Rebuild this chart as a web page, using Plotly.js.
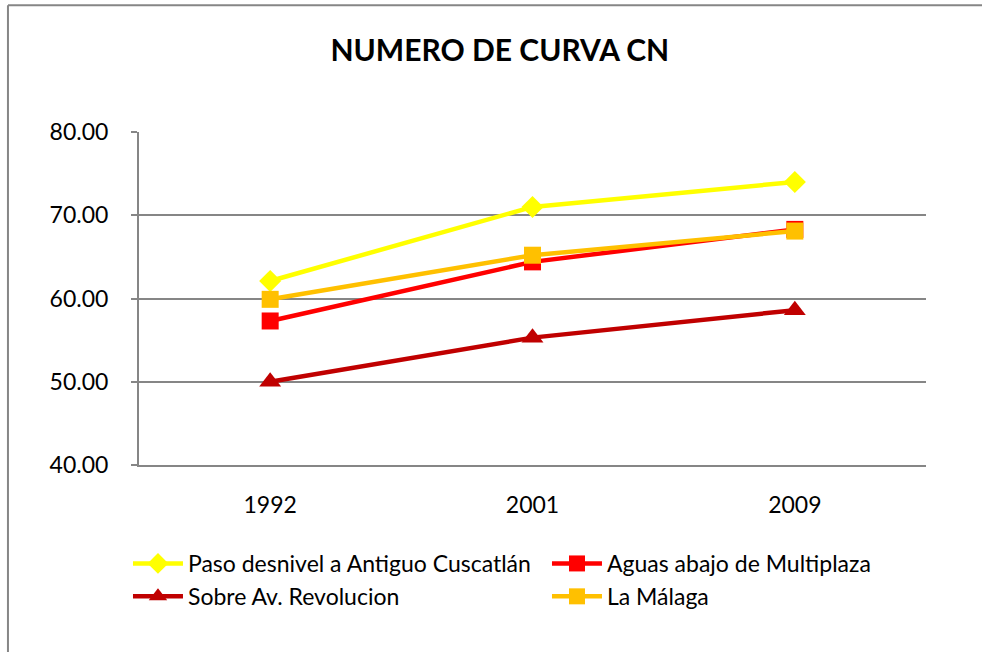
<!DOCTYPE html>
<html>
<head>
<meta charset="utf-8">
<script src="https://cdn.plot.ly/plotly-3.0.1.min.js"></script>
<style>
html,body{margin:0;padding:0;background:#fff;}
#chart{width:982px;height:652px;}
</style>
</head>
<body>
<div id="chart"></div>
<script>
var years = ['1992', '2001', '2009'];
var seriesNames = ['Paso desnivel a Antiguo Cuscatlán', 'Aguas abajo de Multiplaza', 'Sobre Av. Revolucion', 'La Málaga'];
var pasoDesnivel = [62.1, 71.0, 74.0];
var aguasAbajo = [57.3, 64.4, 68.3];
var sobreRevolucion = [50.0, 55.3, 58.6];
var laMalaga = [59.9, 65.2, 68.1];
var yTicks = [40, 50, 60, 70, 80];
var yTickLabels = ['40.00', '50.00', '60.00', '70.00', '80.00'];

var FONT = 'Lato, "Open Sans", sans-serif';

function tr(name, y, color, symbol, size) {
  return {
    type: 'scatter', mode: 'lines+markers', name: name, x: years, y: y,
    line: {color: color, width: 4.5},
    marker: {color: color, symbol: symbol, size: size, line: {width: 0}},
    cliponaxis: false
  };
}

var data = [
  tr(seriesNames[0], pasoDesnivel, '#FFFF00', 'diamond', 17),
  tr(seriesNames[1], aguasAbajo, '#FF0000', 'square', 17),
  tr(seriesNames[2], sobreRevolucion, '#C00000', 'triangle-up', 19),
  tr(seriesNames[3], laMalaga, '#FFC000', 'square', 17)
];

var layout = {
  width: 982, height: 652,
  margin: {l: 139, r: 56, t: 132, b: 187, autoexpand: false},
  paper_bgcolor: '#ffffff', plot_bgcolor: '#ffffff',
  font: {family: FONT, size: 23, color: '#000'},
  showlegend: true,
  title: {text: '<b>NUMERO DE CURVA CN</b>', font: {family: FONT, size: 30, color: '#000'},
          x: 0.509, xref: 'container', xanchor: 'center', y: 0.923, yref: 'container', yanchor: 'middle'},
  xaxis: {
    type: 'category', range: [-0.5, 2.5], showgrid: false, zeroline: false,
    showline: true, linecolor: '#868686', linewidth: 2, ticks: '',
    ticklabelstandoff: 18, tickfont: {family: FONT, size: 23, color: '#000'}
  },
  yaxis: {
    range: [40, 80], tickvals: yTicks, ticktext: yTickLabels,
    showgrid: true, gridcolor: '#868686', gridwidth: 2, zeroline: false,
    showline: true, linecolor: '#868686', linewidth: 2,
    ticks: 'outside', ticklen: 6, tickcolor: '#868686', tickwidth: 2,
    ticklabelstandoff: 18, tickfont: {family: FONT, size: 23, color: '#000'}
  },
  legend: {
    orientation: 'h', x: -0.014, xanchor: 'left', y: -0.2312, yanchor: 'top',
    itemwidth: 50, entrywidth: 354, tracegroupgap: 0,
    font: {family: FONT, size: 23, color: '#000'}, bgcolor: 'rgba(0,0,0,0)'
  },
  shapes: [
    {type: 'line', xref: 'paper', yref: 'paper', x0: -0.1665, x1: 1.2, y0: 1.381, y1: 1.381, line: {color: '#868686', width: 2}},
    {type: 'line', xref: 'paper', yref: 'paper', x0: -0.1665, x1: -0.1665, y0: 1.381, y1: -1, line: {color: '#868686', width: 2}}
  ]
};

Plotly.newPlot('chart', data, layout, {displayModeBar: false, staticPlot: true});
</script>
</body>
</html>
